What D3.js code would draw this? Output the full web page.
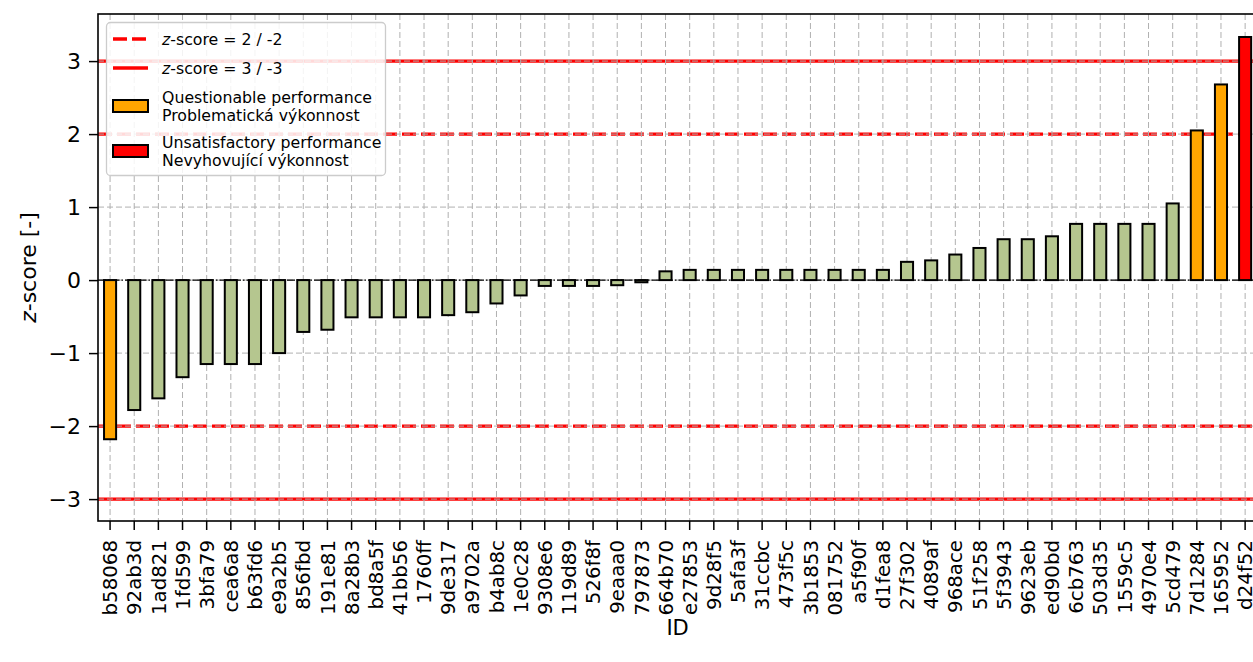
<!DOCTYPE html>
<html>
<head>
<meta charset="utf-8">
<script src="https://cdn.jsdelivr.net/npm/d3@7"></script>
<style>
  html, body { margin: 0; padding: 0; background: #fff; }
  svg { display: block; font-family: "DejaVu Sans", sans-serif; }
</style>
</head>
<body>
<svg id="chart" width="1253" height="662"></svg>
<script>
// ---- data ----
const ids = ["b58068","92ab3d","1ad821","1fd599","3bfa79","cea6a8","b63fd6","e9a2b5","856fbd","191e81",
  "8a28b3","bd8a5f","41bb56","1760ff","9de317","a9702a","b4ab8c","1e0c28","9308e6","119d89",
  "526f8f","9eaaa0","797873","664b70","e27853","9d28f5","5afa3f","31ccbc","473f5c","3b1853",
  "081752","a5f90f","d1fea8","27f302","4089af","968ace","51f258","5f3943","9623eb","ed90bd",
  "6cb763","503d35","1559c5","4970e4","5cd479","7d1284","165952","d24f52"];
const zscores = [-2.18,-1.78,-1.62,-1.33,-1.15,-1.15,-1.15,-1.00,-0.71,-0.68,
  -0.51,-0.51,-0.51,-0.51,-0.48,-0.44,-0.32,-0.21,-0.08,-0.08,
  -0.08,-0.07,-0.03,0.12,0.14,0.14,0.14,0.14,0.14,0.14,
  0.14,0.14,0.14,0.25,0.27,0.35,0.44,0.56,0.56,0.60,
  0.77,0.77,0.77,0.77,1.05,2.05,2.68,3.33];
const yTicks = [-3,-2,-1,0,1,2,3];
const warnLevels = [2,-2];
const actionLevels = [3,-3];
const legendLabels = [
  ["z-score = 2 / -2"],
  ["z-score = 3 / -3"],
  ["Questionable performance","Problematická výkonnost"],
  ["Unsatisfactory performance","Nevyhovující výkonnost"]
];

// ---- colours ----
const cOk = "#b5c68f", cWarn = "#ffa500", cBad = "#ff0000";
const colorOf = v => Math.abs(v) >= 3 ? cBad : (Math.abs(v) >= 2 ? cWarn : cOk);

const svg = d3.select("#chart");
const L = 98, T = 14, B = 521;
const step = 24.15;
const R = L + ids.length * step;
const FS = "22px", FSX = "19.8px";

const x = d3.scaleBand().domain(ids).range([L, R]).padding(0);
const y = d3.scaleLinear().domain([-3.3, 3.645]).range([B, T]);

svg.append("defs").append("clipPath").attr("id","plotclip")
  .append("rect").attr("x",L).attr("y",T).attr("width",R-L).attr("height",B-T);

const plot = svg.append("g").attr("clip-path","url(#plotclip)");

// red reference lines
plot.selectAll(".warn").data(warnLevels).join("line")
  .attr("x1",L).attr("x2",R).attr("y1",d=>y(d)).attr("y2",d=>y(d))
  .attr("stroke",cBad).attr("stroke-width",3.3).attr("stroke-dasharray","14,5");
plot.selectAll(".act").data(actionLevels).join("line")
  .attr("x1",L).attr("x2",R).attr("y1",d=>y(d)).attr("y2",d=>y(d))
  .attr("stroke",cBad).attr("stroke-width",3.3);

// grid
const gridStyle = s => s.attr("stroke","#b0b0b0").attr("stroke-width",1).attr("stroke-dasharray","6,3");
plot.selectAll(".gy").data(yTicks).join("line")
  .attr("x1",L).attr("x2",R).attr("y1",d=>y(d)).attr("y2",d=>y(d)).call(gridStyle);
plot.selectAll(".gx").data(ids).join("line")
  .attr("x1",d=>x(d)+x.bandwidth()/2).attr("x2",d=>x(d)+x.bandwidth()/2)
  .attr("y1",T).attr("y2",B).call(gridStyle);

// zero line
plot.append("line").attr("x1",L).attr("x2",R).attr("y1",y(0)).attr("y2",y(0))
  .attr("stroke","#000").attr("stroke-width",1.2).attr("stroke-dasharray","8,2,1.5,2");

// bars
const bw = x.bandwidth()*0.5;
plot.selectAll(".bar").data(ids.map((id,i)=>({id, v: zscores[i]}))).join("rect")
  .attr("x",d=>x(d.id)+x.bandwidth()/2-bw/2)
  .attr("width",bw)
  .attr("y",d=>y(Math.max(0,d.v)))
  .attr("height",d=>Math.abs(y(d.v)-y(0)))
  .attr("fill",d=>colorOf(d.v))
  .attr("stroke","#000").attr("stroke-width",2);

// axes
const yAxis = d3.axisLeft(y).tickValues(yTicks).tickSize(9).tickPadding(8)
  .tickFormat(d => d < 0 ? "\u2212" + Math.abs(d) : String(d));
const gy = svg.append("g").attr("transform",`translate(${L},0)`).call(yAxis);
gy.select(".domain").remove();
gy.selectAll(".tick line").attr("stroke","#000").attr("stroke-width",1.5);
gy.selectAll(".tick text").attr("font-size",FS).attr("fill","#000")
  .attr("font-family","DejaVu Sans");

const xAxis = d3.axisBottom(x).tickSize(9).tickPadding(0);
const gx = svg.append("g").attr("transform",`translate(0,${B})`).call(xAxis);
gx.select(".domain").remove();
gx.selectAll(".tick line").attr("stroke","#000").attr("stroke-width",1.5);
gx.selectAll(".tick text").attr("font-size",FSX).attr("fill","#000")
  .attr("font-family","DejaVu Sans")
  .attr("text-anchor","end").attr("dy","0.36em")
  .attr("transform","translate(0,19) rotate(-90)").attr("x",0).attr("y",0);

// frame
svg.append("rect").attr("x",L).attr("y",T).attr("width",R-L).attr("height",B-T)
  .attr("fill","none").attr("stroke","#000").attr("stroke-width",1.6);

// axis labels
svg.append("text").attr("x",(L+R)/2).attr("y",635).attr("text-anchor","middle")
  .attr("font-size","21px").text("ID");
const yl = svg.append("text").attr("transform",`translate(36,${(T+B)/2}) rotate(-90)`)
  .attr("text-anchor","middle").attr("font-size",FS);
yl.append("tspan").attr("font-style","italic").text("z");
yl.append("tspan").text("-score [-]");

// legend
const lg = svg.append("g");
lg.append("rect").attr("x",106.5).attr("y",22.5).attr("width",279).attr("height",153).attr("rx",4)
  .attr("fill","#fff").attr("fill-opacity",0.85).attr("stroke","#cccccc").attr("stroke-width",1.3);
const hx1 = 113, hx2 = 148, tx = 162, fs = "15.75px";
lg.append("line").attr("x1",hx1).attr("x2",hx2).attr("y1",39).attr("y2",39)
  .attr("stroke",cBad).attr("stroke-width",3.3).attr("stroke-dasharray","14,5");
lg.append("line").attr("x1",hx1).attr("x2",hx2).attr("y1",68).attr("y2",68)
  .attr("stroke",cBad).attr("stroke-width",3.3);
[0,1].forEach((k,i)=>{
  const t = lg.append("text").attr("x",tx).attr("y",[39,68][i]).attr("dy","0.35em").attr("font-size",fs);
  const lab = legendLabels[k][0];
  t.append("tspan").attr("font-style","italic").text(lab[0]);
  t.append("tspan").text(lab.slice(1));
});
const patchRows = [{c:cWarn, y:[97,115]},{c:cBad, y:[142,160]}];
patchRows.forEach((r,i)=>{
  const cy = (r.y[0]+r.y[1])/2;
  lg.append("rect").attr("x",hx1).attr("y",cy-6).attr("width",hx2-hx1).attr("height",12)
    .attr("fill",r.c).attr("stroke","#000").attr("stroke-width",2);
  legendLabels[i+2].forEach((s,j)=>{
    lg.append("text").attr("x",tx).attr("y",r.y[j]).attr("dy","0.35em").attr("font-size",fs).text(s);
  });
});
</script>
</body>
</html>
